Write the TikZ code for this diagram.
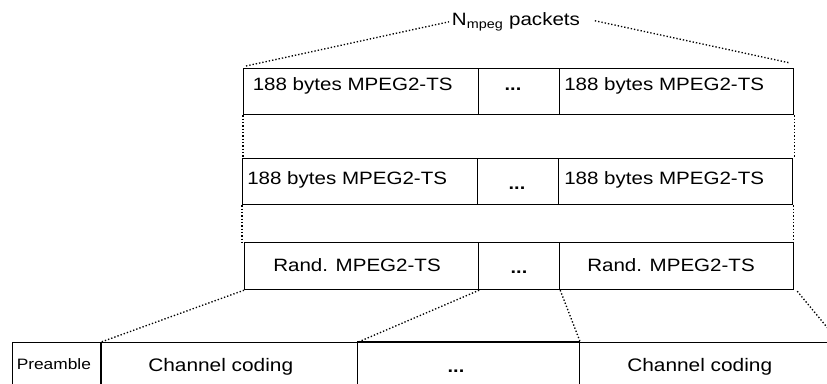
\documentclass[tikz,border=0pt]{standalone}
\usepackage{fontspec}
\setmainfont[FakeStretch=1.15]{Liberation Sans}
\usetikzlibrary{calc}
\begin{document}
\begin{tikzpicture}[x=0.75pt,y=-0.75pt,
  cellbox/.style={draw, line width=0.9pt, inner sep=0pt, anchor=north west},
  txt/.style={inner sep=0pt, font=\fontsize{13.4}{15}\selectfont},
  dots/.style={inner sep=0pt, font=\fontsize{13}{15}\selectfont\bfseries, anchor=base},
  dotline/.style={line width=1pt, dash pattern=on 1pt off 1.5pt}]
\clip (0,0) rectangle (827,383);
% helper for cells
\newcommand{\mycell}[5]{\node[cellbox, minimum width={(#4-#2)*0.75pt}, minimum height={(#5-#3)*0.75pt}] (#1) at (#2,#3) {};}
% row 1
\mycell{ra}{243}{68}{478}{114}
\mycell{rb}{478}{68}{559}{114}
\mycell{rc}{559}{68}{793}{114}
% row 2
\mycell{sa}{242}{158}{477}{204}
\mycell{sb}{477}{158}{558}{204}
\mycell{sc}{558}{158}{792}{204}
% row 3
\mycell{ta}{244}{242}{478}{289}
\mycell{tb}{478}{242}{559}{289}
\mycell{tc}{559}{242}{793}{289}
% bottom row
\mycell{pre}{12}{342}{100}{400}
\mycell{cca}{100}{342}{357}{400}
\mycell{ccm}{357}{342}{579}{400}
\mycell{ccb}{579}{342}{838}{400}
\draw[line width=1.6pt] (pre.north east) -- (pre.south east);
\draw[line width=1.5pt] (ccm.north west) -- (ccm.north east);
% texts
\node[txt, anchor=base west] (ta1) at (252.5,90) {188 bytes MPEG2-TS};
\node[dots] (td1) at (513,90.5) {...};
\node[txt, anchor=base west] (tc1) at (564,90) {188 bytes MPEG2-TS};
\node[txt, anchor=base west] (ta2) at (247,184) {188 bytes MPEG2-TS};
\node[dots] (td2) at (517,189.5) {...};
\node[txt, anchor=base west] (tc2) at (564,184) {188 bytes MPEG2-TS};
\node[txt, anchor=base] (ta3) at (357,271.5) {Rand. MPEG2-TS};
\node[dots] (td3) at (519,273) {...};
\node[txt, anchor=base] (tc3) at (671,271.5) {Rand. MPEG2-TS};
\node[inner sep=0pt, font=\fontsize{11.3}{13}\selectfont, anchor=base west] (tp) at (16.5,369.3) {Preamble};
\node[txt, anchor=base west, font=\fontsize{13.6}{15}\selectfont] (tca) at (148,371.5) {Channel coding};
\node[dots] (tdm) at (456,372) {...};
\node[txt, anchor=base west, font=\fontsize{13.6}{15}\selectfont] (tcb) at (627,371.5) {Channel coding};
% header label
\node[txt, anchor=base west, inner xsep=2pt] (lab) at (449,25.5) {N\textsubscript{mpeg} packets};
% dotted connectors
\draw[dotline] ($(ra.north west)+(3,-2)$) -- (lab.west);
\draw[dotline] ($(lab.east)+(12,-1)$) -- ($(rc.north east)+(-4,-5)$);
\draw[dotline] (ra.south west) -- (ra.south west |- sa.north);
\draw[dotline] (rc.south east) -- (rc.south east |- sc.north);
\draw[dotline] (sa.south west) -- (sa.south west |- ta.north);
\draw[dotline] (sc.south east) -- (sc.south east |- tc.north);
\draw[dotline] (ta.south west) -- (pre.north east);
\draw[dotline] (ta.south east) -- (cca.north east);
\draw[dotline] (tb.south east) -- (ccm.north east);
\draw[dotline] ($(tc.south east)+(3,1)$) -- (ccb.north east);
\end{tikzpicture}
\end{document}
